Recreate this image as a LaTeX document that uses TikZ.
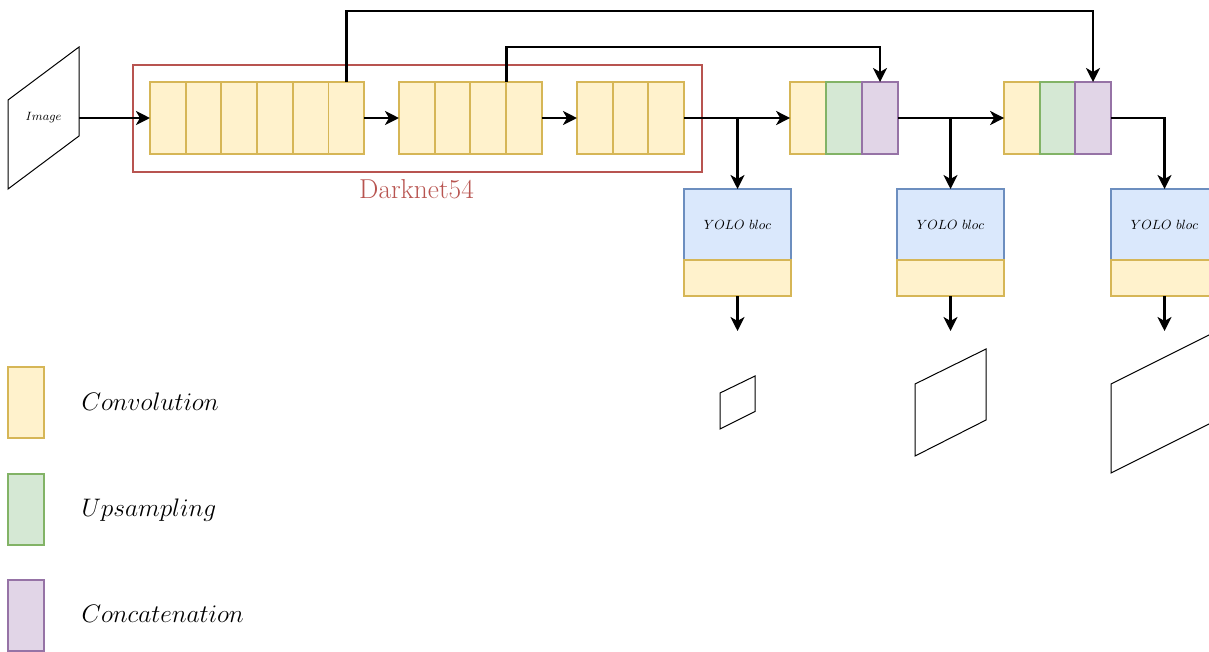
\RequirePackage{fix-cm}
\documentclass[tikz,border=0pt]{standalone}
\usetikzlibrary{arrows.meta}
\tikzset{every picture/.style={line width=0.75pt}}

\definecolor{convfill}{RGB}{255,242,204}
\definecolor{convdraw}{RGB}{214,182,86}
\definecolor{upfill}{RGB}{213,232,212}
\definecolor{updraw}{RGB}{130,179,102}
\definecolor{catfill}{RGB}{225,213,231}
\definecolor{catdraw}{RGB}{150,115,166}
\definecolor{yolofill}{RGB}{218,232,252}
\definecolor{yolodraw}{RGB}{108,142,191}
\definecolor{netred}{RGB}{184,84,80}

\tikzset{
	cell/.style={draw, line width=1.4pt, minimum width=26.8pt, minimum height=54pt, inner sep=0pt, outer sep=0pt},
	conv/.style={cell, draw=convdraw, fill=convfill},
	upsamp/.style={cell, draw=updraw, fill=upfill},
	concat/.style={cell, draw=catdraw, fill=catfill},
	yolo/.style={draw=yolodraw, fill=yolofill, line width=1.4pt, minimum width=80.25pt, minimum height=53.25pt, inner sep=0pt, outer sep=0pt},
	yoloconv/.style={draw=convdraw, fill=convfill, line width=1.4pt, minimum width=80.25pt, minimum height=27pt, inner sep=0pt, outer sep=0pt},
	arr/.style={line width=2.2pt, -{Stealth[length=10.5pt,width=10.5pt,inset=3pt]}},
	legend/.style={anchor=base west, inner sep=0pt, font=\fontsize{19}{22}\selectfont},
}

\begin{document}
\begin{tikzpicture}[x=0.75pt,y=0.75pt,yscale=-1,xscale=1]
	\clip (0,0) rectangle (1209,651);
	
	%Shape: Parallelogram [image]
	\draw (8,100) -- (79,47) -- (79,136) -- (8,189) -- cycle ;
	\node [inner sep=0.75pt, font=\fontsize{9}{11}\selectfont] (img) at (43.5,118) {$Image$};
	\coordinate (imgout) at (79,118);
	
	%Shape: Rectangle [darknet]
	\draw [netred, line width=1.4pt] (133,65) rectangle (702,172) ;
	\node [anchor=base, text=netred, inner sep=0pt, font=\fontsize{20.5}{24}\selectfont] (dklabel) at (416.5,198) {Darknet54};
	
	%Convolution blocks
	\foreach \i in {0,...,5} \node [conv] (a\i) at ({167.85+35.7*\i},118) {};
	\foreach \i in {0,...,3} \node [conv] (b\i) at ({416.85+35.7*\i},118) {};
	\foreach \i in {0,...,2} \node [conv] (c\i) at ({594.85+35.7*\i},118) {};
	
	%Upsampling + concatenation blocks
	\node [conv] (d0) at (808,118) {};
	\node [upsamp] (d1) at (844,118) {};
	\node [concat] (d2) at (880,118) {};
	\node [conv] (e0) at (1022,118) {};
	\node [upsamp] (e1) at (1057.5,118) {};
	\node [concat] (e2) at (1093,118) {};
	
	%YOLO blocs
	\foreach \n/\x in {1/737.5,2/950.5,3/1164.5} {
		\node [yolo, font=\fontsize{10}{12}\selectfont] (y\n) at (\x,224.5) {$YOLO\ bloc$};
		\node [yoloconv] (y\n c) at (\x,278) {};
	}
	
	%Straight Lines
	\draw [arr] (imgout) -- (a0.west) ;
	\draw [arr] (a5.east) -- (b0.west) ;
	\draw [arr] (b3.east) -- (c0.west) ;
	\draw [arr] (c2.east) -- (d0.west) ;
	\draw [arr] (c2.east -| y1.north) -- (y1.north) ;
	\draw [arr] (d2.east) -- (e0.west) ;
	\draw [arr] (d2.east -| y2.north) -- (y2.north) ;
	\draw [arr] (e2.east) -| (y3.north) ;
	
	%Skip connections
	\draw [arr] (b3.north west) -- ++(0,-35) -| (d2.north) ;
	\draw [arr] (a5.north) -- ++(0,-71) -| (e2.north) ;
	
	%Outputs
	\foreach \n in {1,2,3} \draw [arr] (y\n c.south) -- ++(0,35) ;
	\draw (720,393) -- (755,376) -- (755,411.5) -- (720,429) -- cycle ;
	\draw (915,384) -- (986,349) -- (986,420) -- (915,456) -- cycle ;
	\draw (1111,384) -- (1253,313) -- (1253,402) -- (1111,473) -- cycle ;
	
	%Legend
	\node [conv, minimum width=27pt, minimum height=53.25pt] (lconv) at (26,402.5) {};
	\node [upsamp, minimum width=27pt, minimum height=53.25pt] (lup) at (26,509.5) {};
	\node [concat, minimum width=27pt, minimum height=53.25pt] (lcat) at (26,615.5) {};
	
	% Text Node
	\node [legend] (tconv) at (81,410) {$Convolution$};
	% Text Node
	\node [legend] (tup) at (81,516) {$Upsampling$};
	% Text Node
	\node [legend] (tcat) at (81,622.5) {$Concatenation$};
	
\end{tikzpicture}
\end{document}
